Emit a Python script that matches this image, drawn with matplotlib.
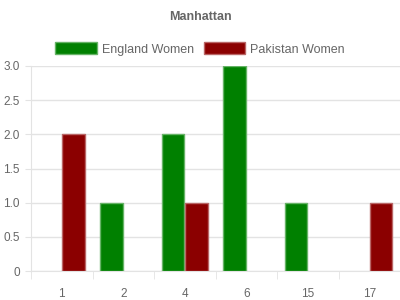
import matplotlib
matplotlib.use("Agg")
import matplotlib.pyplot as plt
from matplotlib.patches import Patch
import numpy as np

plt.rcParams["font.family"] = ["Liberation Sans", "DejaVu Sans"]

# --- data ---
categories = ["1", "2", "4", "6", "15", "17"]
england = [0, 1, 2, 3, 1, 0]
pakistan = [2, 0, 1, 0, 0, 1]
series_names = ["England Women", "Pakistan Women"]
yticks = [0, 0.5, 1.0, 1.5, 2.0, 2.5, 3.0]
ytick_labels = ["0", "0.5", "1.0", "1.5", "2.0", "2.5", "3.0"]

text_col = "#666666"
grid_col = "#e3e3e3"
fills = ["#008000", "#8b0000"]
edges = ["#66b366", "#b96666"]

fig = plt.figure(figsize=(4, 3), dpi=100)
ax = fig.add_axes([31 / 400, 1 - 271 / 300, 369 / 400, (271 - 66) / 300])

x = np.arange(len(categories))
w = 0.36
off = 0.19
for vals, dx, fc, ec in [(england, -off, fills[0], edges[0]),
                         (pakistan, off, fills[1], edges[1])]:
    # no outline for empty bars, so nothing shows at zero
    lw = [1 if v > 0 else 0 for v in vals]
    ax.bar(x + dx, vals, width=w, color=fc, edgecolor=ec, linewidth=lw, zorder=3)

ax.set_xlim(-0.5, len(categories) - 0.5)
ax.set_ylim(0, 3.0)

ax.set_yticks(yticks)
ax.set_yticklabels(ytick_labels)
ax.set_xticks(x)
ax.set_xticklabels(categories)
ax.set_xticks(np.arange(-0.5, len(categories), 1.0), minor=True)

ax.tick_params(axis="y", length=4.5, color=grid_col, pad=3.5,
               labelsize=8.5, labelcolor=text_col)
ax.tick_params(axis="x", which="major", length=0, pad=12,
               labelsize=8.5, labelcolor=text_col)
ax.tick_params(axis="x", which="minor", length=6, color=grid_col)

ax.grid(axis="y", color=grid_col, linewidth=1, zorder=0)
for s in ["top", "right"]:
    ax.spines[s].set_visible(False)
for s in ["left", "bottom"]:
    ax.spines[s].set_color(grid_col)
    ax.spines[s].set_zorder(1)

fig.text(0.5, 1 - 17 / 300, "Manhattan", ha="center", va="center",
         fontsize=9, fontweight="bold", color=text_col)

handles = [Patch(facecolor=fc, edgecolor=ec, linewidth=1) for fc, ec in zip(fills, edges)]
fig.legend(handles, series_names, loc="center", bbox_to_anchor=(0.5, 1 - 49 / 300),
           ncol=2, frameon=False, fontsize=9, labelcolor=text_col,
           handlelength=3.3, handleheight=1.1, handletextpad=0.4, columnspacing=0.8)

fig.savefig("out.png", dpi=100)
